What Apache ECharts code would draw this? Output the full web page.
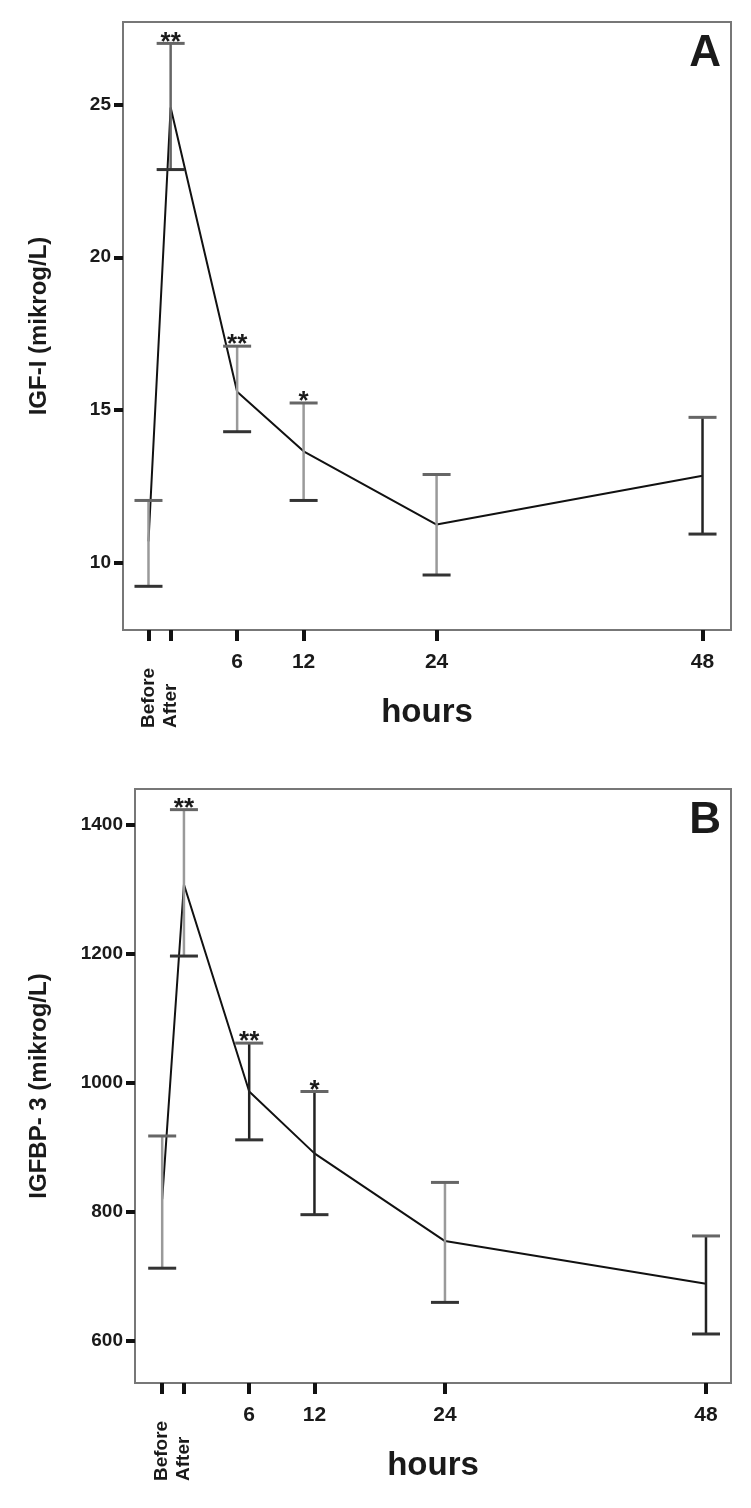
<!DOCTYPE html>
<html>
<head>
<meta charset="utf-8">
<script src="https://cdn.jsdelivr.net/npm/echarts@6/dist/echarts.min.js"></script>
<style>
    html, body { margin: 0; padding: 0; background: #fff; }
    #main { width: 751px; height: 1508px; }
</style>
</head>
<body>
<div id="main"></div>
<script>
    // time points: "Before" and "After" sit at -2 h and 0 h on the hour scale
    var hourNames = ['Before', 'After', '6', '12', '24', '48'];
    var hours = [-2, 0, 6, 12, 24, 48];
    var hourTicks = [-2, 0, 6, 12, 24, 48];
    var hourLabelTicks = [6, 12, 24, 48];
    var stars = ['', '**', '**', '*', '', ''];

    // panel A: IGF-I
    var igfMean = [10.7, 24.9, 15.6, 13.65, 11.25, 12.85];
    var igfLow = [9.23, 22.87, 14.29, 12.04, 9.6, 10.94];
    var igfHigh = [12.04, 27.0, 17.09, 15.23, 12.89, 14.76];
    var igfTicks = [10, 15, 20, 25];

    // panel B: IGFBP-3
    var bpMean = [820, 1308, 987, 891, 755, 689];
    var bpLow = [713, 1197, 912, 796, 660, 611];
    var bpHigh = [918, 1424, 1062, 987, 846, 763];
    var bpTicks = [600, 800, 1000, 1200, 1400];

    var FONT = '"Liberation Sans", Arial, sans-serif';
    var barShadeA = ['#9a9a9a', '#666', '#9a9a9a', '#9a9a9a', '#9a9a9a', '#222'];
    var barShadeB = ['#9a9a9a', '#9a9a9a', '#222', '#222', '#9a9a9a', '#222'];

    function pairs(xs, ys) {
        var out = [];
        for (var i = 0; i < xs.length; i++) {
            out.push([xs[i], ys[i]]);
        }
        return out;
    }

    function errData(low, high) {
        var out = [];
        for (var i = 0; i < hours.length; i++) {
            out.push([hours[i], low[i], high[i]]);
        }
        return out;
    }

    function errRender(shades) {
        return function (params, api) {
            var i = params.dataIndex;
            var x = api.value(0);
            var lo = api.coord([x, api.value(1)]);
            var hi = api.coord([x, api.value(2)]);
            var hw = 14;
            var kids = [
                {type: 'line', shape: {x1: hi[0], y1: hi[1], x2: lo[0], y2: lo[1]},
                    style: {stroke: shades[i], lineWidth: 2.5}},
                {type: 'line', shape: {x1: hi[0] - hw, y1: hi[1], x2: hi[0] + hw, y2: hi[1]},
                    style: {stroke: '#666', lineWidth: 3}},
                {type: 'line', shape: {x1: lo[0] - hw, y1: lo[1], x2: lo[0] + hw, y2: lo[1]},
                    style: {stroke: '#333', lineWidth: 3}}
            ];
            if (stars[i]) {
                kids.push({
                    type: 'text', x: hi[0], y: hi[1] + 12,
                    style: {text: stars[i], font: 'bold 26px ' + FONT, fill: '#1a1a1a',
                        align: 'center', verticalAlign: 'bottom'}
                });
            }
            return {type: 'group', children: kids};
        };
    }

    function xAxes(grid, min, max) {
        return [{
            gridIndex: grid,
            type: 'value',
            min: min,
            max: max,
            position: 'bottom',
            name: 'hours',
            nameLocation: 'middle',
            nameGap: 66,
            nameTextStyle: {fontSize: 33, fontWeight: 'bold', color: '#1a1a1a', fontFamily: FONT},
            axisLine: {show: true, onZero: false, lineStyle: {color: '#777', width: 2}},
            axisTick: {show: true, customValues: hourTicks, length: 11, lineStyle: {color: '#111', width: 4}},
            axisLabel: {
                customValues: hourLabelTicks, margin: 22,
                fontSize: 21, fontWeight: 'bold', color: '#1a1a1a', fontFamily: FONT
            },
            splitLine: {show: false}
        }, {
            gridIndex: grid,
            type: 'value',
            min: min,
            max: max,
            position: 'bottom',
            axisLine: {show: false, onZero: false},
            axisTick: {show: false},
            axisLabel: {
                customValues: [hours[0], hours[1]],
                rotate: 90,
                align: 'left',
                verticalAlign: 'middle',
                margin: 98,
                fontSize: 19, fontWeight: 'bold', color: '#1a1a1a', fontFamily: FONT,
                formatter: function (v) {
                    return v === hours[0] ? hourNames[0] : hourNames[1];
                }
            },
            splitLine: {show: false}
        }];
    }

    function yAxis(grid, min, max, ticks, name, gap) {
        return {
            gridIndex: grid,
            type: 'value',
            min: min,
            max: max,
            name: name,
            nameLocation: 'middle',
            nameGap: gap,
            nameTextStyle: {fontSize: 24, fontWeight: 'bold', color: '#1a1a1a', fontFamily: FONT},
            axisLine: {show: true, onZero: false, lineStyle: {color: '#777', width: 2}},
            axisTick: {show: true, customValues: ticks, length: 9, lineStyle: {color: '#111', width: 4}},
            axisLabel: {
                customValues: ticks, margin: 12,
                fontSize: 19, fontWeight: 'bold', color: '#1a1a1a', fontFamily: FONT,
                formatter: function (v) { return String(v); }
            },
            splitLine: {show: false}
        };
    }

    var myChart = echarts.init(document.getElementById('main'), null, {renderer: 'canvas'});

    var axA = xAxes(0, -4.3, 50.57);
    var axB = xAxes(1, -4.5, 50.3);

    var option = {
        backgroundColor: '#fff',
        animation: false,
        title: [{
            text: 'A', right: 25, top: 27,
            textStyle: {fontSize: 44, fontWeight: 'bold', color: '#1a1a1a', fontFamily: FONT}
        }, {
            text: 'B', right: 25, top: 794,
            textStyle: {fontSize: 44, fontWeight: 'bold', color: '#1a1a1a', fontFamily: FONT}
        }],
        grid: [
            {left: 123, top: 22, width: 608, height: 608, show: true, borderColor: '#777', borderWidth: 2},
            {left: 135, top: 789, width: 596, height: 594, show: true, borderColor: '#777', borderWidth: 2}
        ],
        xAxis: [axA[0], axA[1], axB[0], axB[1]],
        yAxis: [
            yAxis(0, 7.8, 27.7, igfTicks, 'IGF-I (mikrog/L)', 72),
            yAxis(1, 535, 1456, bpTicks, 'IGFBP- 3 (mikrog/L)', 84)
        ],
        series: [{
            type: 'line',
            xAxisIndex: 0, yAxisIndex: 0,
            data: pairs(hours, igfMean),
            symbol: 'none',
            lineStyle: {color: '#111', width: 2},
            z: 2
        }, {
            type: 'custom',
            xAxisIndex: 0, yAxisIndex: 0,
            data: errData(igfLow, igfHigh),
            renderItem: errRender(barShadeA),
            z: 3
        }, {
            type: 'line',
            xAxisIndex: 2, yAxisIndex: 1,
            data: pairs(hours, bpMean),
            symbol: 'none',
            lineStyle: {color: '#111', width: 2},
            z: 2
        }, {
            type: 'custom',
            xAxisIndex: 2, yAxisIndex: 1,
            data: errData(bpLow, bpHigh),
            renderItem: errRender(barShadeB),
            z: 3
        }]
    };

    myChart.setOption(option);
</script>
</body>
</html>
